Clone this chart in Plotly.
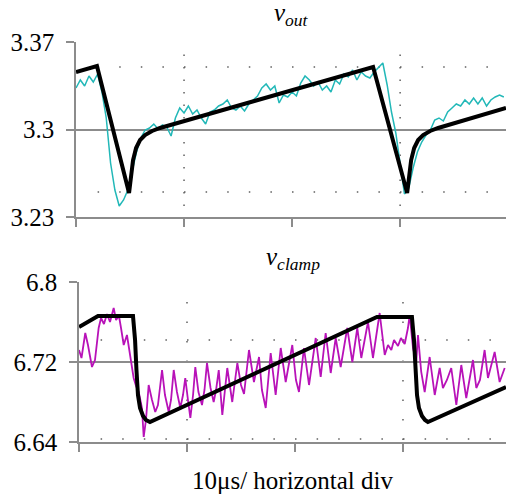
import plotly.graph_objects as go

# ---- measured scope traces (time in microseconds, 0.4 us sample clock) ----
t_scope = [0.0, 0.4, 0.8, 1.2, 1.6, 2.0, 2.4, 2.8, 3.2, 3.6, 4.0, 4.4, 4.8, 5.2, 5.6,
           6.0, 6.4, 6.8, 7.2, 7.6, 8.0, 8.4, 8.8, 9.2, 9.6, 10.0, 10.4, 10.8, 11.2,
           11.6, 12.0, 12.4, 12.8, 13.2, 13.6, 14.0, 14.4, 14.8, 15.2, 15.6, 16.0,
           16.4, 16.8, 17.2, 17.6, 18.0, 18.4, 18.8, 19.2, 19.6, 20.0, 20.4, 20.8,
           21.2, 21.6, 22.0, 22.4, 22.8, 23.2, 23.6, 24.0, 24.4, 24.8, 25.2, 25.6,
           26.0, 26.4, 26.8, 27.2, 27.6, 28.0, 28.4, 28.8, 29.2, 29.6, 30.0, 30.4,
           30.8, 31.2, 31.6, 32.0, 32.4, 32.8, 33.2, 33.6, 34.0, 34.4, 34.8, 35.2,
           35.6, 36.0, 36.4, 36.8, 37.2, 37.6, 38.0, 38.4, 38.8, 39.2, 39.6]

vout_meas = [3.3332, 3.3396, 3.3348, 3.3428, 3.3380, 3.3444, 3.3300, 3.3092, 3.2732,
             3.2516, 3.2388, 3.2436, 3.2516, 3.2660, 3.2820, 3.2932, 3.2996, 3.3012,
             3.3044, 3.3004, 3.3036, 3.3020, 3.2948, 3.3092, 3.3172, 3.3132, 3.3188,
             3.3124, 3.3156, 3.3092, 3.3044, 3.3140, 3.3156, 3.3188, 3.3204, 3.3236,
             3.3172, 3.3156, 3.3188, 3.3148, 3.3204, 3.3236, 3.3268, 3.3332, 3.3364,
             3.3316, 3.3348, 3.3212, 3.3276, 3.3260, 3.3300, 3.3268, 3.3372, 3.3428,
             3.3396, 3.3348, 3.3380, 3.3316, 3.3348, 3.3300, 3.3396, 3.3364, 3.3444,
             3.3420, 3.3476, 3.3396, 3.3460, 3.3428, 3.3412, 3.3460, 3.3492, 3.3532,
             3.3356, 3.3140, 3.2972, 3.2716, 3.2484, 3.2532, 3.2692, 3.2820, 3.2900,
             3.2956, 3.2996, 3.3076, 3.3092, 3.3068, 3.3140, 3.3172, 3.3204, 3.3188,
             3.3236, 3.3204, 3.3252, 3.3204, 3.3252, 3.3188, 3.3236, 3.3260, 3.3276,
             3.3260]

# clamp voltage: ripple peaks / troughs
t_clamp = [0.00, 0.23, 0.58, 0.83, 1.20, 1.48, 1.82, 2.04, 2.31, 2.59, 2.87, 3.21,
           3.43, 3.70, 3.89, 4.14, 4.44, 4.75, 5.06, 5.28, 5.53, 5.83, 5.99, 6.20,
           6.45, 6.76, 7.06, 7.31, 7.69, 7.96, 8.31, 8.52, 8.77, 9.07, 9.38, 9.63,
           9.84, 10.09, 10.31, 10.56, 10.77, 11.06, 11.39, 11.62, 11.85, 12.18, 12.47,
           12.69, 12.94, 13.27, 13.52, 13.73, 14.19, 14.66, 15.00, 15.28, 15.74, 16.20,
           16.67, 16.94, 17.29, 17.75, 18.21, 18.68, 19.14, 19.75, 20.09, 20.37, 20.83,
           21.30, 21.92, 22.38, 22.84, 23.31, 23.77, 24.23, 24.84, 25.31, 25.77, 26.14,
           26.76, 27.22, 27.84, 28.31, 28.61, 28.92, 29.17, 29.54, 29.81, 30.16, 30.46,
           30.62, 30.93, 31.23, 31.39, 31.69, 32.01, 32.47, 32.94, 33.40, 33.70, 34.07,
           34.47, 34.94, 35.40, 35.86, 36.48, 36.79, 37.13, 37.56, 37.87, 38.49, 38.95,
           39.42]
vclamp_meas = [6.732, 6.724, 6.749, 6.737, 6.715, 6.722, 6.754, 6.764, 6.758, 6.768,
               6.760, 6.774, 6.762, 6.766, 6.754, 6.737, 6.747, 6.724, 6.704, 6.696,
               6.690, 6.674, 6.645, 6.662, 6.697, 6.682, 6.670, 6.677, 6.712, 6.687,
               6.670, 6.682, 6.712, 6.690, 6.674, 6.687, 6.704, 6.682, 6.664, 6.687,
               6.715, 6.690, 6.677, 6.692, 6.719, 6.694, 6.680, 6.692, 6.712, 6.667,
               6.692, 6.714, 6.680, 6.719, 6.697, 6.688, 6.732, 6.700, 6.725, 6.692,
               6.674, 6.729, 6.687, 6.734, 6.700, 6.737, 6.702, 6.690, 6.734, 6.697,
               6.744, 6.705, 6.749, 6.709, 6.744, 6.715, 6.754, 6.720, 6.754, 6.724,
               6.760, 6.724, 6.769, 6.727, 6.737, 6.732, 6.742, 6.736, 6.744, 6.738,
               6.754, 6.767, 6.734, 6.720, 6.747, 6.710, 6.690, 6.725, 6.687, 6.714,
               6.694, 6.702, 6.714, 6.677, 6.717, 6.684, 6.722, 6.694, 6.702, 6.732,
               6.704, 6.730, 6.700, 6.714]

# ---- model waveforms ----
t_vout_model = [0.0, 1.94, 4.91, 5.09, 5.28, 5.56, 5.93, 6.39, 7.04, 7.78, 27.5,
                30.65, 30.83, 31.02, 31.30, 31.67, 32.13, 32.78, 33.52, 39.8]
vout_model = [3.346, 3.3508, 3.2492, 3.2636, 3.2756, 3.2852, 3.2916, 3.2956, 3.2988,
              3.3012, 3.350, 3.2492, 3.2636, 3.2756, 3.2852, 3.2916, 3.2956, 3.2988,
              3.3012, 3.3172]

t_vclamp_model = [0.0, 1.76, 5.0, 5.19, 5.32, 5.46, 5.65, 5.93, 6.20, 6.57, 27.59,
                  30.83, 31.02, 31.16, 31.30, 31.48, 31.76, 32.04, 32.31, 39.54]
vclamp_model = [6.755, 6.766, 6.766, 6.742, 6.712, 6.687, 6.674, 6.666, 6.662, 6.660,
                6.765, 6.765, 6.742, 6.712, 6.687, 6.674, 6.666, 6.662, 6.660, 6.695]

# axis settings
time_ticks = [0, 10, 20, 30]
vout_ticks = [3.23, 3.3, 3.37]
vout_labels = ["3.23", "3.3", "3.37"]
vclamp_ticks = [6.64, 6.72, 6.8]
vclamp_labels = ["6.64", "6.72", "6.8"]

SERIF = "Liberation Serif"
GRAY = "#8c8c8c"
DOT = "#606060"

fig = go.Figure()

fig.add_trace(go.Scatter(x=t_scope, y=vout_meas, mode="lines",
                         line=dict(color="#22b8b8", width=1.5),
                         xaxis="x", yaxis="y", showlegend=False))
fig.add_trace(go.Scatter(x=t_vout_model, y=vout_model, mode="lines",
                         line=dict(color="black", width=4),
                         xaxis="x", yaxis="y", showlegend=False))
fig.add_trace(go.Scatter(x=t_clamp, y=vclamp_meas, mode="lines",
                         line=dict(color="#b812b8", width=1.8),
                         xaxis="x2", yaxis="y2", showlegend=False))
fig.add_trace(go.Scatter(x=t_vclamp_model, y=vclamp_model, mode="lines",
                         line=dict(color="black", width=4),
                         xaxis="x2", yaxis="y2", showlegend=False))

common_x = dict(showgrid=False, zeroline=False, showline=True, linecolor=GRAY,
                linewidth=1.5, ticks="outside", ticklen=8, tickcolor=GRAY,
                tickwidth=1.5, tickvals=time_ticks, showticklabels=False)
common_y = dict(showgrid=True, gridcolor=GRAY, gridwidth=1.5, zeroline=False,
                showline=True, linecolor=GRAY, linewidth=1.5, ticks="outside",
                ticklen=8, tickcolor=GRAY, tickwidth=1.5,
                tickfont=dict(family=SERIF, size=25, color="black"),
                ticklabelstandoff=7)

fig.update_layout(
    width=506, height=502,
    margin=dict(l=76, r=0, t=42, b=60),
    paper_bgcolor="white", plot_bgcolor="white",
    font=dict(family=SERIF, color="black"),
    xaxis=dict(domain=[0, 1], range=[0, 39.8], anchor="y", **common_x),
    yaxis=dict(domain=[0.5625, 1], range=[3.23, 3.37], anchor="x",
               tickvals=vout_ticks, ticktext=vout_labels, **common_y),
    xaxis2=dict(domain=[0.007, 1], range=[0, 39.54], anchor="y2", **common_x),
    yaxis2=dict(domain=[0, 0.4], range=[6.64, 6.8], anchor="x2",
                tickvals=vclamp_ticks, ticktext=vclamp_labels, **common_y),
)

# oscilloscope graticule dots
def dotted(xref, yref, x0, y0, x1, y1, gap):
    fig.add_shape(type="line", xref=xref, yref=yref, x0=x0, y0=y0, x1=x1, y1=y1,
                  line=dict(color=DOT, width=1.5, dash=f"1.5px,{gap}px"), layer="below")

for v in (3.35, 3.25):
    dotted("x", "y", 2, v, 39.8, v, 20.1)
for tt in (10, 30):
    dotted("x", "y", tt, 3.36, tt, 3.23, 11.0)
for v in (6.742, 6.643):
    dotted("x2", "y2", 2, v, 39.54, v, 20.1)
for tt in (10, 30):
    dotted("x2", "y2", tt, 6.78, tt, 6.64, 18.0)

# panel titles and time-base label
fig.add_annotation(text="<i>v</i><sub><i>out</i></sub>", xref="x domain", yref="y domain",
                   x=0.5, y=1, xanchor="center", yanchor="bottom", yshift=10,
                   showarrow=False, font=dict(family=SERIF, size=25, color="black"))
fig.add_annotation(text="<i>v</i><sub><i>clamp</i></sub>", xref="x2 domain", yref="y2 domain",
                   x=0.5, y=1, xanchor="center", yanchor="bottom", yshift=6,
                   showarrow=False, font=dict(family=SERIF, size=25, color="black"))
fig.add_annotation(text="10μs/ horizontal div", xref="x2 domain", yref="paper",
                   x=0.5, y=0, xanchor="center", yanchor="top", yshift=-23,
                   showarrow=False, font=dict(family=SERIF, size=25, color="black"))

fig.write_html("out.html")
